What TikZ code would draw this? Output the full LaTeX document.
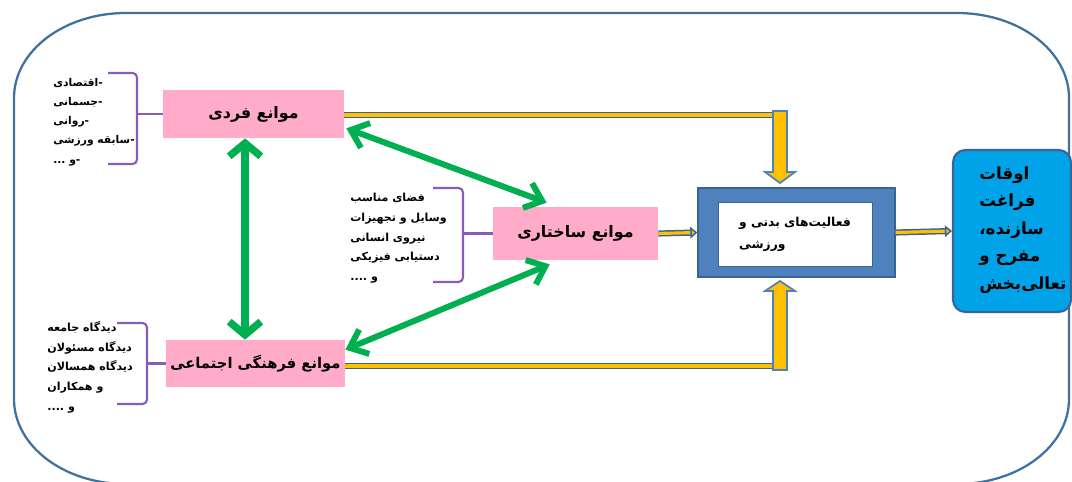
\documentclass[tikz,border=0pt]{standalone}
\usepackage{fontspec}
\usetikzlibrary{arrows.meta,calc}
\newfontfamily\ar[Script=Arabic]{DejaVu Sans}
\TeXXeTstate=1
\newcommand{\rtltext}[1]{\beginR #1\endR}
\definecolor{pinkc}{HTML}{FFABC9}
\definecolor{greenc}{HTML}{00B050}
\definecolor{purplec}{HTML}{8A5CB8}
\definecolor{framec}{HTML}{41719C}
\definecolor{boxblue}{HTML}{4F81BD}
\definecolor{boxblueD}{HTML}{3A6496}
\definecolor{yellowc}{HTML}{FFC000}
\definecolor{cyanc}{HTML}{00A2E8}
\begin{document}
\begin{tikzpicture}[x=0.02cm,y=-0.02cm,
  pbox/.style={fill=pinkc, inner sep=0pt, font=\ar\bfseries\fontsize{9}{11}\selectfont},
  brtext/.style={anchor=north west, align=left, inner sep=0pt, font=\ar\bfseries\fontsize{6.3}{11.2}\selectfont},
  brace/.style={draw=purplec, line width=1.2pt, rounded corners=2.5pt},
  garrow/.style={draw=greenc, line width=4.2pt, line cap=round, line join=round,
     {Straight Barb[length=7.5pt,width=18pt]}-{Straight Barb[length=7.5pt,width=18pt]}},
  gdiag/.style={draw=greenc, line width=3.4pt, line cap=round, line join=round,
     {Straight Barb[length=9pt,width=15pt]}-{Straight Barb[length=9pt,width=15pt]}},
  yline/.style={draw=boxblueD, double=yellowc, line width=0.85pt, double distance=1.8pt},
  blockarrow/.style={fill=yellowc, draw=boxblue, line width=1pt, line join=miter},
  frame/.style={draw=framec, line width=1.3pt}
]
\useasboundingbox (0,0) rectangle (1072,482);

% outer frame
\draw[frame] (126,13) -- (957,13) .. controls (1019,13) and (1069,51) .. (1069,98)
  -- (1069,399) .. controls (1069,446) and (1019,484) .. (957,484)
  -- (126,484) .. controls (64,484) and (14,446) .. (14,399)
  -- (14,98) .. controls (14,51) and (64,13) .. (126,13) -- cycle;

% pink boxes
\node[pbox, minimum width=3.62cm, minimum height=0.96cm] (b1) at (253.5,114) {\rtltext{موانع فردی}};
\node[pbox, minimum width=3.3cm, minimum height=1.06cm] (b2) at (575.5,233.5) {\rtltext{موانع ساختاری}};
\node[pbox, minimum width=3.58cm, minimum height=0.94cm, font=\ar\bfseries\fontsize{8.4}{10}\selectfont] (b3) at (255.5,363.5) {\rtltext{موانع فرهنگی اجتماعی}};

% central box
\node[fill=boxblue, draw=boxblueD, line width=0.8pt, minimum width=3.94cm, minimum height=1.78cm, inner sep=0pt] (cbo) at (796.5,232.5) {};
\node[fill=white, draw=boxblueD, line width=0.5pt, minimum width=3.08cm, minimum height=1.28cm, inner sep=0pt,
  align=left, font=\ar\bfseries\fontsize{7}{12.5}\selectfont] (cbi) at (795,234) {\rtltext{فعالیت‌های بدنی و}\\\rtltext{ورزشی}};

% result box
\node[fill=cyanc, draw=boxblueD, line width=1.2pt, rounded corners=7pt, minimum width=2.36cm, minimum height=3.24cm, inner sep=0pt] (bb) at (1012,231) {};
\node[anchor=west, inner sep=0pt, align=left, font=\ar\bfseries\fontsize{9.5}{15.7}\selectfont] (bbt) at (979,230)
  {\rtltext{اوقات}\\\rtltext{فراغت}\\\rtltext{سازنده،}\\\rtltext{مفرح و}\\\rtltext{تعالی‌بخش}};

% bracket texts
\node[brtext, font=\ar\bfseries\fontsize{6.1}{10.9}\selectfont] (t1) at (53,78) {\rtltext{-اقتصادی}\\\rtltext{-جسمانی}\\\rtltext{-روانی}\\\rtltext{-سابقه ورزشی}\\\rtltext{-و ...}};
\node[brtext] (t2) at (350,193) {\rtltext{فضای مناسب}\\\rtltext{وسایل و تجهیزات}\\\rtltext{نیروی انسانی}\\\rtltext{دستیابی فیزیکی}\\\rtltext{و ....}};
\node[brtext] (t3) at (47,321) {\rtltext{دیدگاه جامعه}\\\rtltext{دیدگاه مسئولان}\\\rtltext{دیدگاه همسالان}\\\rtltext{و همکاران}\\\rtltext{و ....}};

% brackets
\draw[brace] (108,73) -| (137,114) |- (108,164);
\draw[brace] (137,114) -- (b1.west);
\draw[brace] (433,188) -| (463,233.5) |- (433,282);
\draw[brace] (463,233.5) -- (b2.west);
\draw[brace] (117,323) -| (147,363.5) |- (117,404);
\draw[brace] (147,363.5) -- (b3.west);

% green arrows
\draw[garrow] (245,0 |- b1.south) -- (245,0 |- b3.north);
\draw[gdiag] ($(b1.south east)+(2,-10)$) -- ($(b2.north west)+(54,-4)$);
\draw[gdiag] ($(b2.south west)+(57,4)$) -- ($(b3.north east)+(0,10)$);

% yellow connectors
\coordinate (k1) at (780,115);
\coordinate (k3) at (780,366);
\draw[yline] (b1.east |- k1) -- (k1);
\draw[yline] (b3.east |- k3) -- (k3);
\filldraw[blockarrow] (773,111) -- (787,111) -- (787,172) -- (795,172) -- (780,183) -- (765,172) -- (773,172) -- cycle;
\filldraw[blockarrow] (773,370) -- (787,370) -- (787,291) -- (795,291) -- (780,281) -- (765,291) -- (773,291) -- cycle;
\draw[yline, -{Triangle[length=4pt,width=6.5pt,fill=yellowc]}] (b2.east) -- (cbo.west);
\draw[yline, -{Triangle[length=4pt,width=6.5pt,fill=yellowc]}] (cbo.east) -- (bb.west);
\end{tikzpicture}
\end{document}
